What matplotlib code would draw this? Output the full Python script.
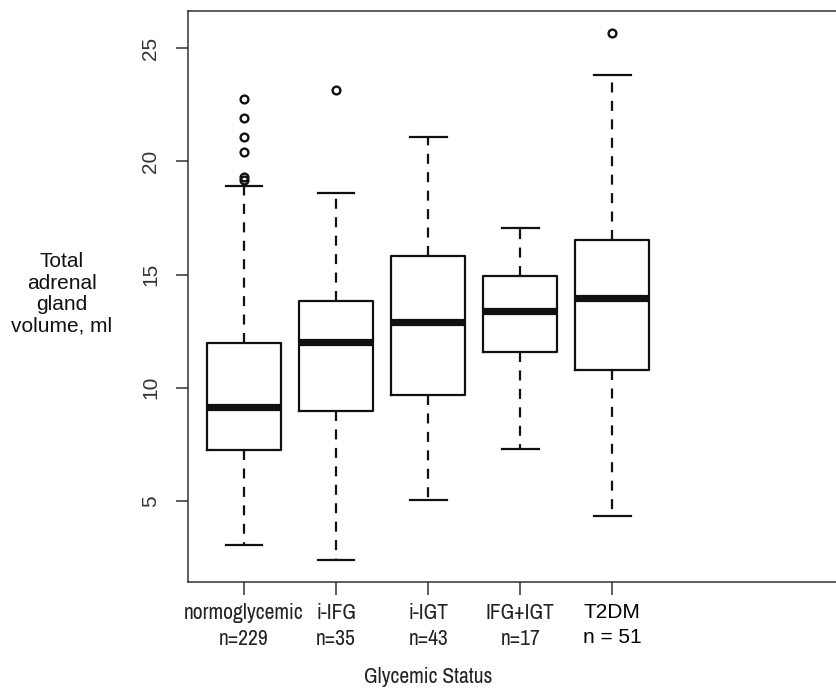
# Boxplot: volumen total de glándula suprarrenal según estado glucémico
import matplotlib
matplotlib.use("Agg")
import matplotlib.pyplot as plt

# datos (ml)
groups = ["normoglycemic", "i-IFG", "i-IGT", "IFG+IGT", "T2DM"]
counts = ["n=229", "n=35", "n=43", "n=17", "n = 51"]
whisker_low = [3.03, 2.38, 5.04, 7.31, 4.34]
q1 = [7.24, 8.99, 9.69, 11.59, 10.77]
median = [9.14, 12.02, 12.90, 13.40, 13.98]
q3 = [11.99, 13.84, 15.82, 14.93, 16.52]
whisker_high = [18.90, 18.62, 21.07, 17.07, 23.81]
outliers = [
    [19.20, 19.30, 20.42, 21.10, 21.92, 22.75],
    [23.18],
    [],
    [],
    [25.69],
]
y_ticks = [5, 10, 15, 20, 25]

INK = "#111111"
REG = ["Liberation Sans", "DejaVu Sans"]
NARROW = ["Archivo Narrow", "Liberation Sans", "DejaVu Sans"]

stats = []
for i, g in enumerate(groups):
    stats.append({
        "label": g,
        "whislo": whisker_low[i],
        "q1": q1[i],
        "med": median[i],
        "q3": q3[i],
        "whishi": whisker_high[i],
        "fliers": outliers[i],
    })

fig = plt.figure(figsize=(8.37, 6.89), dpi=100)
ax = fig.add_axes([188 / 837, 107 / 689, 649 / 837, 571 / 689])

positions = list(range(1, len(groups) + 1))
ax.bxp(
    stats,
    positions=positions,
    widths=0.8,
    capwidths=0.4,
    patch_artist=False,
    boxprops=dict(color=INK, linewidth=1.6),
    medianprops=dict(color=INK, linewidth=5.2, solid_capstyle="butt"),
    whiskerprops=dict(color=INK, linewidth=1.6, linestyle=(0, (4.5, 3.8))),
    capprops=dict(color=INK, linewidth=1.6),
    flierprops=dict(marker="o", markersize=5.6, markerfacecolor="none",
                    markeredgecolor=INK, markeredgewidth=1.7, linestyle="none"),
)

ax.set_xlim(1 - 56 / 92.08, 1 + 593 / 92.08)
ax.set_ylim(1.41, 26.65)

# solo ejes izquierdo, inferior y superior visibles (el derecho queda fuera)
ax.spines["right"].set_visible(False)
for s in ("left", "bottom", "top"):
    ax.spines[s].set_linewidth(1.1)
    ax.spines[s].set_color("#333333")

ax.set_yticks(y_ticks)
ax.set_yticklabels([str(v) for v in y_ticks], rotation=90, va="center",
                   fontsize=15, family=REG, color="#333333")
ax.tick_params(axis="y", length=9, width=1.1, color="#333333", pad=11)

ax.set_xticks(positions)
ax.set_xticklabels([f"{g}\n{n}" for g, n in zip(groups, counts)],
                   fontsize=15.5, family=NARROW, color="#222222", linespacing=1.4)
ax.tick_params(axis="x", length=9, width=1.1, color="#333333", pad=6)
ax.get_xticklabels()[-1].set_family(REG)
ax.get_xticklabels()[-1].set_fontsize(15)
ax.get_xticklabels()[-1].set_color("#000000")

ax.set_ylabel("Total\nadrenal\ngland\nvolume, ml", rotation=0, fontsize=15,
              family=REG, color="#111111", ha="center", va="center",
              linespacing=1.15)
ax.yaxis.set_label_coords(-126 / 649, 0.505)

ax.text(3, -0.177, "Glycemic Status", transform=ax.get_xaxis_transform(),
        ha="center", va="baseline", fontsize=15.5, family=NARROW, color="#222222")

fig.savefig("out.png", dpi=100)
